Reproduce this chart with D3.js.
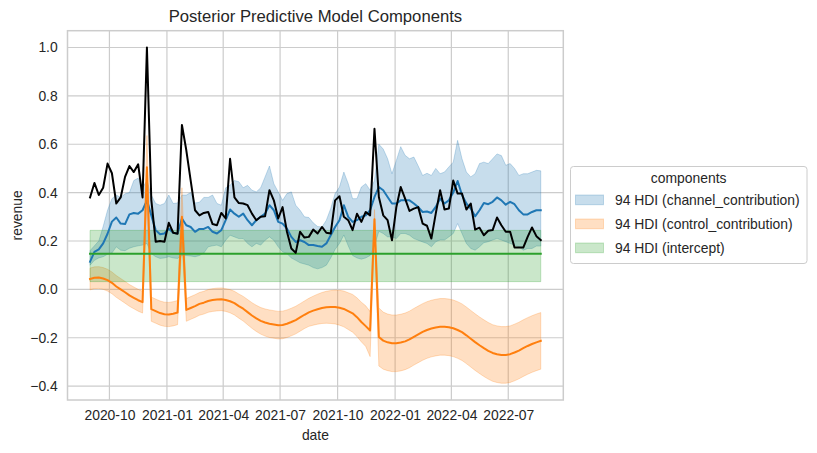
<!DOCTYPE html>
<html>
<head>
<meta charset="utf-8">
<script src="https://cdn.jsdelivr.net/npm/d3@7"></script>
<style>
  html, body { margin: 0; padding: 0; background: #fff; }
  svg { display: block; font-family: "Liberation Sans", Arial, sans-serif; }
</style>
</head>
<body>
<svg id="chart" width="817" height="453"></svg>
<script>
// ---------------- data ----------------
const startDate = "2020-08-31"; // first weekly observation
const weeksCount = 104;

const observed = [0.38,0.44,0.39,0.42,0.52,0.48,0.355,0.38,0.465,0.51,
 0.485,0.517,0.38,1.0,0.37,0.197,0.20,0.197,0.275,0.234,
 0.23,0.68,0.575,0.45,0.327,0.306,0.316,0.32,0.27,0.265,
 0.316,0.293,0.54,0.38,0.357,0.355,0.348,0.313,0.286,0.30,
 0.302,0.41,0.368,0.293,0.34,0.238,0.169,0.151,0.238,0.214,
 0.217,0.247,0.231,0.258,0.234,0.231,0.368,0.385,0.30,0.286,
 0.245,0.313,0.279,0.32,0.306,0.664,0.382,0.306,0.286,0.203,
 0.34,0.423,0.375,0.324,0.334,0.34,0.272,0.263,0.21,0.313,
 0.41,0.33,0.334,0.45,0.396,0.396,0.33,0.355,0.247,0.255,
 0.224,0.242,0.245,0.297,0.265,0.238,0.238,0.173,0.173,0.173,
 0.217,0.256,0.22,0.204];

const channelMean = [0.114,0.155,0.165,0.19,0.23,0.28,0.297,0.272,0.27,0.31,
 0.316,0.313,0.327,0.368,0.306,0.245,0.228,0.231,0.251,0.234,
 0.231,0.293,0.265,0.258,0.238,0.25,0.25,0.258,0.238,0.231,
 0.245,0.286,0.33,0.313,0.30,0.313,0.286,0.265,0.286,0.30,
 0.313,0.348,0.327,0.279,0.272,0.251,0.217,0.196,0.203,0.196,
 0.183,0.183,0.179,0.176,0.19,0.224,0.258,0.286,0.348,0.30,
 0.279,0.286,0.30,0.306,0.327,0.382,0.423,0.41,0.382,0.355,
 0.355,0.368,0.368,0.368,0.355,0.34,0.32,0.322,0.316,0.341,
 0.375,0.355,0.368,0.40,0.448,0.39,0.355,0.334,0.302,0.327,
 0.357,0.352,0.362,0.38,0.368,0.35,0.362,0.352,0.327,0.31,
 0.31,0.32,0.327,0.327];

const channelHigh = [0.16,0.18,0.20,0.26,0.327,0.375,0.39,0.38,0.395,0.40,
 0.45,0.46,0.42,0.45,0.39,0.355,0.348,0.355,0.39,0.355,
 0.357,0.39,0.39,0.40,0.357,0.36,0.38,0.38,0.39,0.355,
 0.348,0.42,0.43,0.45,0.445,0.42,0.43,0.41,0.403,0.42,
 0.465,0.51,0.437,0.403,0.368,0.396,0.403,0.348,0.327,0.30,
 0.297,0.275,0.26,0.258,0.286,0.334,0.396,0.423,0.485,0.437,
 0.375,0.375,0.423,0.437,0.41,0.45,0.60,0.58,0.54,0.478,
 0.533,0.59,0.554,0.54,0.547,0.51,0.471,0.48,0.471,0.50,
 0.478,0.485,0.506,0.526,0.616,0.54,0.485,0.465,0.478,0.52,
 0.526,0.52,0.54,0.56,0.553,0.513,0.52,0.50,0.471,0.478,
 0.478,0.485,0.492,0.49];

const channelLow = [0.10,0.12,0.13,0.135,0.145,0.15,0.176,0.162,0.16,0.17,
 0.176,0.18,0.183,0.19,0.148,0.135,0.128,0.13,0.135,0.13,
 0.128,0.14,0.14,0.138,0.135,0.14,0.15,0.176,0.18,0.183,
 0.176,0.203,0.224,0.217,0.21,0.21,0.19,0.176,0.19,0.183,
 0.203,0.217,0.203,0.176,0.155,0.148,0.13,0.12,0.11,0.105,
 0.10,0.09,0.085,0.09,0.10,0.13,0.165,0.19,0.225,0.18,
 0.14,0.13,0.125,0.13,0.14,0.18,0.24,0.231,0.217,0.217,
 0.21,0.231,0.231,0.224,0.21,0.203,0.196,0.19,0.176,0.197,
 0.204,0.204,0.217,0.231,0.272,0.231,0.19,0.169,0.162,0.176,
 0.193,0.197,0.204,0.21,0.204,0.197,0.19,0.183,0.176,0.162,
 0.169,0.169,0.179,0.179];

const controlMean = [0.043,0.048,0.049,0.045,0.038,0.027,0.012,0.0,-0.012,-0.025,
 -0.035,-0.045,-0.053,0.505,-0.082,-0.09,-0.098,-0.103,-0.104,-0.101,
 -0.096,0.30,-0.085,-0.077,-0.069,-0.06,-0.055,-0.048,-0.044,-0.042,
 -0.041,-0.044,-0.049,-0.057,-0.069,-0.08,-0.094,-0.108,-0.12,-0.13,
 -0.137,-0.142,-0.145,-0.148,-0.147,-0.142,-0.135,-0.127,-0.116,-0.105,
 -0.095,-0.088,-0.082,-0.077,-0.074,-0.073,-0.073,-0.076,-0.081,-0.09,
 -0.099,-0.115,-0.135,-0.152,-0.17,0.29,-0.197,-0.212,-0.219,-0.223,
 -0.223,-0.22,-0.215,-0.207,-0.196,-0.186,-0.176,-0.168,-0.162,-0.158,
 -0.155,-0.155,-0.157,-0.161,-0.168,-0.177,-0.19,-0.204,-0.218,-0.231,
 -0.243,-0.254,-0.263,-0.268,-0.271,-0.271,-0.268,-0.261,-0.253,-0.243,
 -0.234,-0.226,-0.219,-0.213];

const controlLow = [-0.002,0.003,0.004,0.0,-0.007,-0.018,-0.033,-0.045,-0.057,-0.07,
 -0.08,-0.09,-0.098,0.38,-0.132,-0.14,-0.148,-0.153,-0.154,-0.151,
 -0.146,0.2,-0.132,-0.124,-0.116,-0.107,-0.102,-0.095,-0.091,-0.089,
 -0.088,-0.091,-0.097,-0.106,-0.119,-0.131,-0.146,-0.161,-0.174,-0.185,
 -0.193,-0.199,-0.202,-0.205,-0.204,-0.199,-0.192,-0.184,-0.173,-0.162,
 -0.153,-0.148,-0.144,-0.141,-0.14,-0.141,-0.143,-0.148,-0.155,-0.166,
 -0.177,-0.195,-0.217,-0.236,-0.278,0.24,-0.317,-0.33,-0.336,-0.34,
 -0.34,-0.337,-0.332,-0.324,-0.313,-0.303,-0.293,-0.285,-0.279,-0.275,
 -0.272,-0.272,-0.274,-0.278,-0.285,-0.294,-0.307,-0.321,-0.335,-0.348,
 -0.36,-0.371,-0.38,-0.385,-0.388,-0.388,-0.385,-0.378,-0.37,-0.36,
 -0.351,-0.343,-0.336,-0.33];

const controlHigh = [0.088,0.093,0.094,0.09,0.083,0.072,0.057,0.045,0.033,0.02,
 0.01,0.0,-0.008,0.636,-0.032,-0.04,-0.048,-0.053,-0.054,-0.051,
 -0.046,0.42,-0.038,-0.03,-0.022,-0.013,-0.008,-0.001,0.003,0.005,
 0.006,0.003,-0.001,-0.008,-0.019,-0.029,-0.042,-0.055,-0.066,-0.075,
 -0.081,-0.085,-0.088,-0.091,-0.09,-0.085,-0.078,-0.07,-0.059,-0.048,
 -0.037,-0.028,-0.02,-0.013,-0.008,-0.005,-0.003,-0.004,-0.007,-0.014,
 -0.021,-0.035,-0.053,-0.068,-0.092,0.33,-0.077,-0.094,-0.102,-0.106,
 -0.106,-0.103,-0.098,-0.09,-0.079,-0.069,-0.059,-0.051,-0.045,-0.041,
 -0.038,-0.038,-0.04,-0.044,-0.051,-0.06,-0.073,-0.087,-0.101,-0.114,
 -0.126,-0.137,-0.146,-0.151,-0.154,-0.154,-0.151,-0.144,-0.136,-0.126,
 -0.117,-0.109,-0.102,-0.096];

const interceptMean = 0.147;
const interceptLow = 0.032;
const interceptHigh = 0.244;

const yTickValues = [-0.4, -0.2, 0.0, 0.2, 0.4, 0.6, 0.8, 1.0];
const xTickLabels = ["2020-10","2021-01","2021-04","2021-07","2021-10","2022-01","2022-04","2022-07"];

const legendLabels = ["94 HDI (channel_contribution)", "94 HDI (control_contribution)", "94 HDI (intercept)"];
const legendTitle = "components";
const chartTitle = "Posterior Predictive Model Components";

// ---------------- layout ----------------
const W = 817, H = 453;
const plot = { left: 67.5, right: 563.3, top: 30.7, bottom: 400 };
const colors = { channel: "#1f77b4", control: "#ff7f0e", intercept: "#2ca02c" };
const bandAlpha = 0.25;

const parseDay = d3.utcParse("%Y-%m-%d");
const t0 = parseDay(startDate);
const dates = d3.range(weeksCount).map(i => d3.utcDay.offset(t0, 7 * i));

const svg = d3.select("#chart");

// x scale with matplotlib-like 5% margins
const xExt = d3.extent(dates);
const xPad = (xExt[1] - xExt[0]) * 0.05;
const x = d3.scaleUtc()
  .domain([new Date(+xExt[0] - xPad), new Date(+xExt[1] + xPad)])
  .range([plot.left, plot.right]);

const allY = [].concat(observed, channelHigh, channelLow, controlHigh, controlLow, [interceptLow, interceptHigh]);
const yMin = d3.min(allY), yMax = d3.max(allY);
const yPad = (yMax - yMin) * 0.05;
const y = d3.scaleLinear().domain([yMin - yPad, yMax + yPad]).range([plot.bottom, plot.top]);

const parseMonth = d3.utcParse("%Y-%m");
const xTickDates = xTickLabels.map(s => parseMonth(s));

const gridColor = "#cccccc";

// grid
const grid = svg.append("g");
grid.selectAll("line.gx").data(xTickDates).enter().append("line")
  .attr("x1", d => x(d)).attr("x2", d => x(d))
  .attr("y1", plot.top).attr("y2", plot.bottom)
  .attr("stroke", gridColor).attr("stroke-width", 1.2);
grid.selectAll("line.gy").data(yTickValues).enter().append("line")
  .attr("x1", plot.left).attr("x2", plot.right)
  .attr("y1", d => y(d)).attr("y2", d => y(d))
  .attr("stroke", gridColor).attr("stroke-width", 1.2);

// bands
const area = (lo, hi) => d3.area()
  .x((d, i) => x(dates[i]))
  .y0((d, i) => y(lo[i]))
  .y1((d, i) => y(hi[i]));

const bands = svg.append("g");
bands.append("path").datum(channelLow)
  .attr("d", area(channelLow, channelHigh)(channelLow))
  .attr("fill", colors.channel).attr("fill-opacity", bandAlpha)
  .attr("stroke", colors.channel).attr("stroke-opacity", bandAlpha).attr("stroke-width", 1);
bands.append("path")
  .attr("d", area(controlLow, controlHigh)(controlLow))
  .attr("fill", colors.control).attr("fill-opacity", bandAlpha)
  .attr("stroke", colors.control).attr("stroke-opacity", bandAlpha).attr("stroke-width", 1);
const interceptLowArr = dates.map(() => interceptLow);
const interceptHighArr = dates.map(() => interceptHigh);
bands.append("path")
  .attr("d", area(interceptLowArr, interceptHighArr)(interceptLowArr))
  .attr("fill", colors.intercept).attr("fill-opacity", bandAlpha)
  .attr("stroke", colors.intercept).attr("stroke-opacity", bandAlpha).attr("stroke-width", 1);

// lines
const line = d3.line().x((d, i) => x(dates[i])).y(d => y(d));
const lines = svg.append("g").attr("fill", "none").attr("stroke-linejoin", "round").attr("stroke-linecap", "square");
lines.append("path").attr("d", line(channelMean)).attr("stroke", colors.channel).attr("stroke-width", 2);
lines.append("path").attr("d", line(controlMean)).attr("stroke", colors.control).attr("stroke-width", 2);
lines.append("path").attr("d", line(dates.map(() => interceptMean))).attr("stroke", colors.intercept).attr("stroke-width", 2);
lines.append("path").attr("d", line(observed)).attr("stroke", "#000").attr("stroke-width", 2);

// spines
svg.append("rect")
  .attr("x", plot.left).attr("y", plot.top)
  .attr("width", plot.right - plot.left).attr("height", plot.bottom - plot.top)
  .attr("fill", "none").attr("stroke", gridColor).attr("stroke-width", 1.5);

// axes (tick marks hidden, like seaborn whitegrid)
const fmtY = v => d3.format(".1f")(v).replace("-", "\u2212");
const yAxis = d3.axisLeft(y).tickValues(yTickValues).tickFormat(fmtY).tickSize(0).tickPadding(9.8);
const gy = svg.append("g").attr("transform", `translate(${plot.left},0)`).call(yAxis);
gy.select(".domain").remove();
gy.selectAll("text").attr("font-size", 13.9).attr("fill", "#262626")
  .attr("font-family", "'Liberation Sans', Arial, sans-serif");

const xAxis = d3.axisBottom(x).tickValues(xTickDates).tickFormat(d3.utcFormat("%Y-%m")).tickSize(0).tickPadding(9.8);
const gx = svg.append("g").attr("transform", `translate(0,${plot.bottom})`).call(xAxis);
gx.select(".domain").remove();
gx.selectAll("text").attr("font-size", 13.9).attr("fill", "#262626")
  .attr("font-family", "'Liberation Sans', Arial, sans-serif");

// labels
const midX = (plot.left + plot.right) / 2;
const midY = (plot.top + plot.bottom) / 2;
svg.append("text").attr("x", midX).attr("y", 22.4).attr("text-anchor", "middle")
  .attr("font-size", 16.67).attr("fill", "#262626").text(chartTitle);
svg.append("text").attr("x", midX).attr("y", 440).attr("text-anchor", "middle")
  .attr("font-size", 13.9).attr("fill", "#262626").text("date");
svg.append("text").attr("transform", `translate(22,${midY}) rotate(-90)`).attr("text-anchor", "middle")
  .attr("font-size", 13.9).attr("fill", "#262626").text("revenue");

// legend
const lg = svg.append("g");
lg.append("rect").attr("x", 570.5).attr("y", 166.5).attr("width", 236.5).attr("height", 97)
  .attr("rx", 3).attr("ry", 3)
  .attr("fill", "#fff").attr("fill-opacity", 0.8).attr("stroke", gridColor).attr("stroke-width", 1);
lg.append("text").attr("x", 688.7).attr("y", 183).attr("text-anchor", "middle")
  .attr("font-size", 13.9).attr("fill", "#262626").text(legendTitle);
const legendColors = [colors.channel, colors.control, colors.intercept];
legendLabels.forEach((lab, i) => {
  const base = 205 + i * 24;
  lg.append("rect").attr("x", 575.5).attr("y", base - 10).attr("width", 28).attr("height", 9.7)
    .attr("fill", legendColors[i]).attr("fill-opacity", bandAlpha)
    .attr("stroke", legendColors[i]).attr("stroke-opacity", bandAlpha).attr("stroke-width", 1);
  lg.append("text").attr("x", 615).attr("y", base)
    .attr("font-size", 13.9).attr("fill", "#262626").text(lab);
});
</script>
</body>
</html>
